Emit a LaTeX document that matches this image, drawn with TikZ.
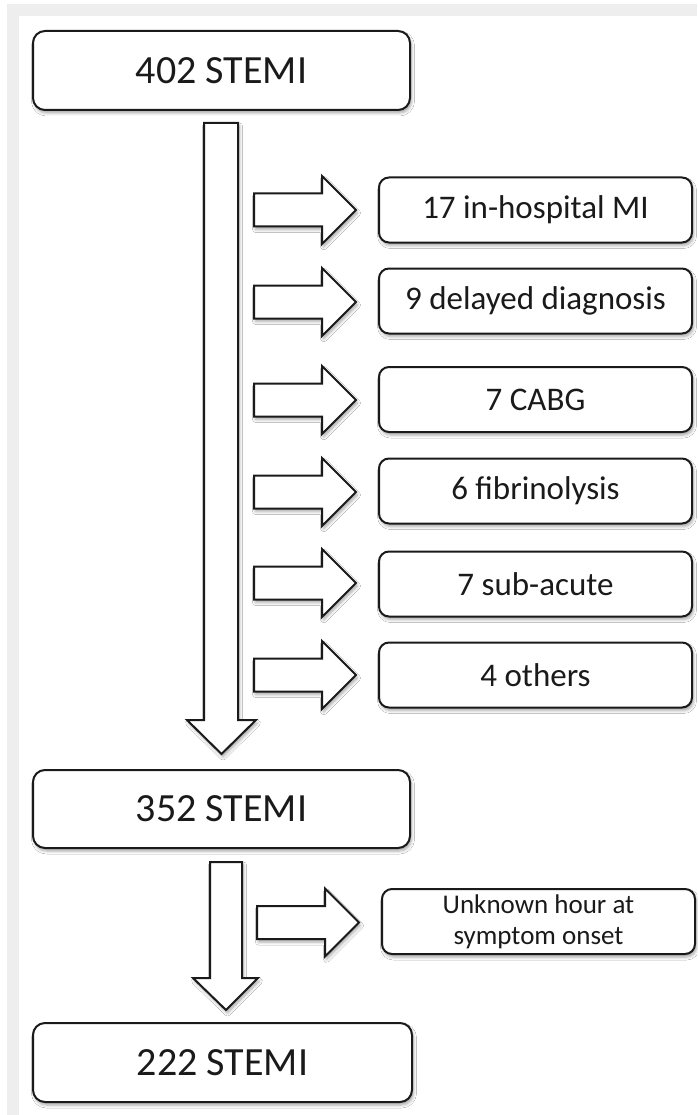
\documentclass[tikz,border=0pt]{standalone}
\usepackage{fontspec}
\setmainfont{Carlito}
\usetikzlibrary{shadows.blur}
\definecolor{framegray}{HTML}{EEEEEE}
\definecolor{ink}{HTML}{1A1A1A}
\tikzset{
  x=1pt, y=-1pt,
  softshadow/.style={blur shadow={shadow xshift=1.5pt, shadow yshift=-3pt, shadow blur radius=3pt, shadow opacity=35}},
  bigbox/.style={draw=ink, line width=2pt, rounded corners=12pt, fill=white, minimum width=377pt, minimum height=79pt, inner sep=0pt, font=\fontsize{40}{44}\selectfont, text=ink, softshadow},
  sidebox/.style={draw=ink, line width=2pt, rounded corners=10pt, fill=white, minimum width=313pt, minimum height=65pt, inner sep=0pt, font=\fontsize{33}{36}\selectfont, text=ink, softshadow},
  smallbox/.style={sidebox, font=\fontsize{27}{31}\selectfont, align=center},
  blockarrow/.style={draw=ink, line width=2pt, fill=white, line join=miter, softshadow},
  pics/sidearrow/.style={code={
    \path[blockarrow] (0,-16.5) -- (68,-16.5) -- (68,-34) -- (102,0) -- (68,34) -- (68,16.5) -- (0,16.5) -- cycle;
  }}
}
\begin{document}
\begin{tikzpicture}
\useasboundingbox (0,0) rectangle (697,1115);
\fill[white] (0,0) rectangle (697,1115);
\fill[framegray] (7,4) rectangle (697,1115);
\fill[white] (19,16) rectangle (697,1115);

% main boxes
\node[bigbox] (b402) at (221.5,70.5) {402 STEMI};
\node[bigbox, minimum height=78pt] (b352) at (221.5,809) {352 STEMI};
\node[bigbox, minimum width=379pt] (b222) at (222.5,1062.5) {222 STEMI};

% big down arrows
\path[blockarrow] (204,123) -- (238,123) -- (238,720) -- (256,720) -- (221.5,754) -- (187,720) -- (204,720) -- cycle;
\path[blockarrow] (210,862) -- (242,862) -- (242,978) -- (258,978) -- (226,1010) -- (193,978) -- (210,978) -- cycle;

% side boxes
\node[sidebox] (e1) at (535.5,210) {17 in-hospital MI};
\node[sidebox] (e2) at (535.5,301) {9 delayed diagnosis};
\node[sidebox] (e3) at (535.5,399.5) {7 CABG};
\node[sidebox] (e4) at (535.5,491) {6 fibrinolysis};
\node[sidebox] (e5) at (535.5,584) {7 sub-acute};
\node[sidebox] (e6) at (535.5,675) {4 others};
\node[smallbox] (e7) at (538.5,921.5) {Unknown hour at\\symptom onset};

% side arrows
\pic at (254,210) {sidearrow};
\pic at (254,302) {sidearrow};
\pic at (254,400) {sidearrow};
\pic at (254,492) {sidearrow};
\pic at (254,583) {sidearrow};
\pic at (254,675) {sidearrow};
\pic at (257,922.5) {sidearrow};
\end{tikzpicture}
\end{document}
